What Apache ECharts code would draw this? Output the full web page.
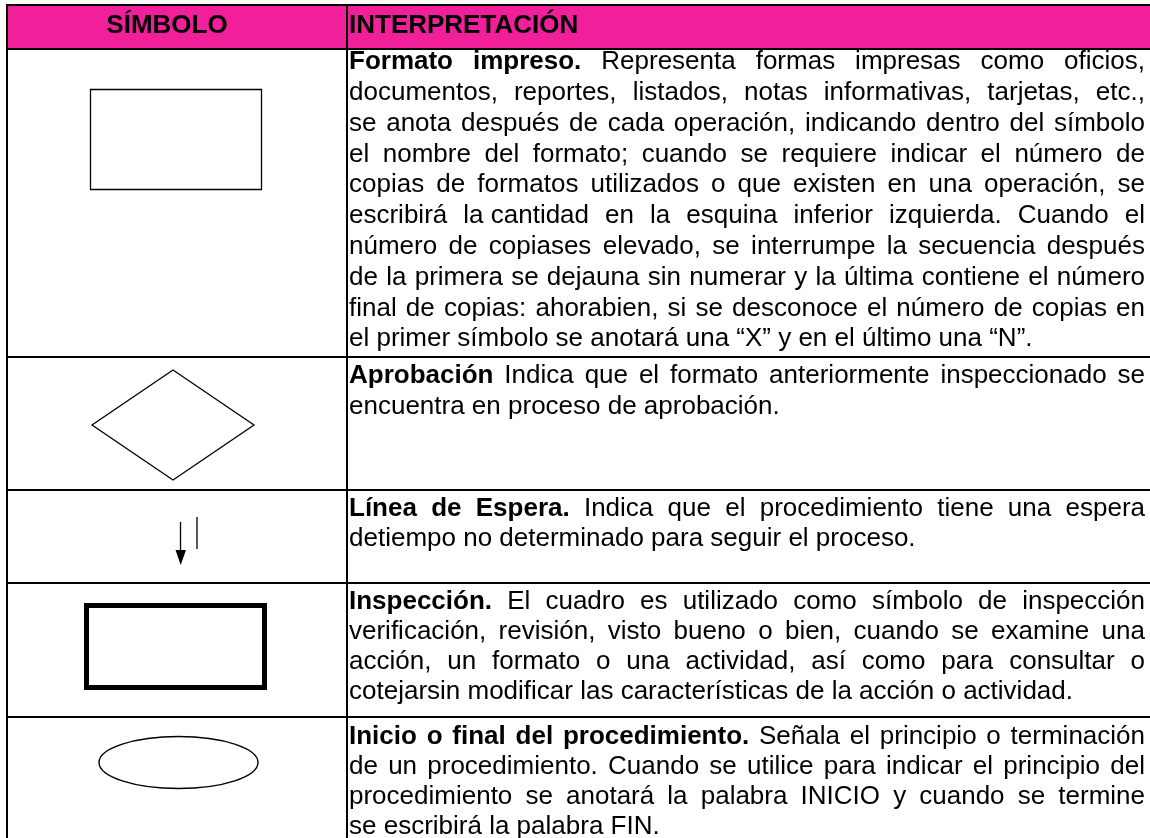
<!DOCTYPE html>
<html>
<head>
<meta charset="utf-8">
<script src="https://cdn.jsdelivr.net/npm/echarts@6/dist/echarts.min.js"></script>
<style>
html,body{margin:0;padding:0;background:#fff;}
#chart{width:1150px;height:838px;}
</style>
</head>
<body>
<div id="chart"></div>
<script>
// ---------- DATA ----------
const headers = ['SÍMBOLO', 'INTERPRETACIÓN'];
const symbols = ['formato', 'aprobacion', 'espera', 'inspeccion', 'terminal'];
const titles = ['Formato impreso.', 'Aprobación', 'Línea de Espera.', 'Inspección.', 'Inicio o final del procedimiento.'];
const bodyLines = [
  [
    'Representa formas impresas como oficios,',
    'documentos, reportes, listados, notas informativas, tarjetas, etc.,',
    'se anota después de cada operación, indicando dentro del símbolo',
    'el nombre del formato; cuando se requiere indicar el número de',
    'copias de formatos utilizados o que existen en una operación, se',
    'escribirá la\u00A0cantidad en la esquina inferior izquierda. Cuando el',
    'número de copiases elevado, se interrumpe la secuencia después',
    'de la primera se dejauna sin numerar y la última contiene el número',
    'final de copias: ahorabien, si se desconoce el número de copias en',
    'el primer símbolo se anotará una “X” y en el último una “N”.'
  ],
  [
    'Indica que el formato anteriormente inspeccionado se',
    'encuentra en proceso de aprobación.'
  ],
  [
    'Indica que el procedimiento tiene una espera',
    'detiempo no determinado para seguir el proceso.'
  ],
  [
    'El cuadro es utilizado como símbolo de inspección',
    'verificación, revisión, visto bueno o bien, cuando se examine una',
    'acción, un formato o una actividad, así como para consultar o',
    'cotejarsin modificar las características de la acción o actividad.'
  ],
  [
    'Señala el principio o terminación',
    'de un procedimiento. Cuando se utilice para indicar el principio del',
    'procedimiento se anotará la palabra INICIO y cuando se termine',
    'se escribirá la palabra FIN.'
  ]
];

// ---------- LAYOUT ----------
const W = 1150, H = 838;
const FAMILY = '"Liberation Sans", Arial, sans-serif';
const FS = 26;
const fontN = FS + 'px ' + FAMILY;
const fontB = 'bold ' + FS + 'px ' + FAMILY;
const PINK = '#F21F9B';
const xLeft = 7, xDiv = 347, yTop = 5, yHead = 49;
const rowTops = [49, 357, 490, 583, 717];
const rowFirstBase = [19, 25, 25, 25, 26];
const rowLineGap = [30.8, 30.5, 30, 30, 30];
const textX0 = 349, textX1 = 1145;
const MID = 6;       // baseline minus anchor y

const cv = document.createElement('canvas').getContext('2d');
function mw(t, f) { cv.font = f; return cv.measureText(t).width; }

const els = [];
function txt(t, x, base, font, align) {
  els.push({type:'text', x:x, y:base - MID, z:5,
    style:{text:t, font:font, fill:'#000', align:align, verticalAlign:'middle'}});
}

// header background
els.push({type:'rect', shape:{x:xLeft, y:yTop, width:W - xLeft, height:yHead - yTop}, style:{fill:PINK}, z:1});

// header texts
txt(headers[0], 167, 32, fontB, 'center');
txt(headers[1], 349, 32, fontB, 'left');

// grid lines
const LW = 2;
const hLines = [yTop].concat(rowTops);
hLines.forEach(y => els.push({type:'line', shape:{x1:xLeft - 1, y1:y, x2:W, y2:y}, style:{stroke:'#000', lineWidth:LW}, z:4}));
[xLeft, xDiv].forEach(x => els.push({type:'line', shape:{x1:x, y1:yTop, x2:x, y2:H}, style:{stroke:'#000', lineWidth:LW}, z:4}));

// body text, justified
const spN = mw(' ', fontN);
bodyLines.forEach((lines, r) => {
  lines.forEach((line, i) => {
    const base = rowTops[r] + rowFirstBase[r] + i * rowLineGap[r];
    const words = [];
    if (i === 0) titles[r].split(' ').forEach(w => words.push({t:w, f:fontB}));
    line.split(' ').forEach(w => words.push({t:w, f:fontN}));
    words.forEach(w => { w.w = mw(w.t, w.f); });
    const total = words.reduce((s, w) => s + w.w, 0);
    const last = i === lines.length - 1;
    const gap = (!last && words.length > 1) ? (textX1 - textX0 - total) / (words.length - 1) : spN;
    let x = textX0;
    words.forEach(w => {
      txt(w.t, x, base, w.f, 'left');
      x += w.w + gap;
    });
  });
});

// symbols
function drawSymbol(kind) {
  if (kind === 'formato') {
    els.push({type:'rect', shape:{x:90.5, y:89.5, width:171, height:100}, style:{fill:'none', stroke:'#000', lineWidth:1.3}, z:5});
  } else if (kind === 'aprobacion') {
    els.push({type:'polygon', shape:{points:[[173,370],[254,425],[173,480],[92,425]]}, style:{fill:'none', stroke:'#000', lineWidth:1.3}, z:5});
  } else if (kind === 'espera') {
    els.push({type:'line', shape:{x1:180.5, y1:522, x2:180.5, y2:553}, style:{stroke:'#000', lineWidth:1.3}, z:5});
    els.push({type:'polygon', shape:{points:[[175.5,550],[186,550],[180.7,565]]}, style:{fill:'#000', stroke:'none'}, z:5});
    els.push({type:'line', shape:{x1:197, y1:517, x2:197, y2:549}, style:{stroke:'#000', lineWidth:1.3}, z:5});
  } else if (kind === 'inspeccion') {
    els.push({type:'rect', shape:{x:86.5, y:605.5, width:178, height:82}, style:{fill:'none', stroke:'#000', lineWidth:5}, z:5});
  } else if (kind === 'terminal') {
    els.push({type:'ellipse', shape:{cx:178.5, cy:762.5, rx:79.5, ry:26}, style:{fill:'none', stroke:'#000', lineWidth:1.4}, z:5});
  }
}
symbols.forEach(drawSymbol);

const chart = echarts.init(document.getElementById('chart'), null, {renderer:'canvas', width:W, height:H});
chart.setOption({
  backgroundColor:'#fff',
  animation:false,
  graphic:{elements:els}
});
</script>
</body>
</html>
